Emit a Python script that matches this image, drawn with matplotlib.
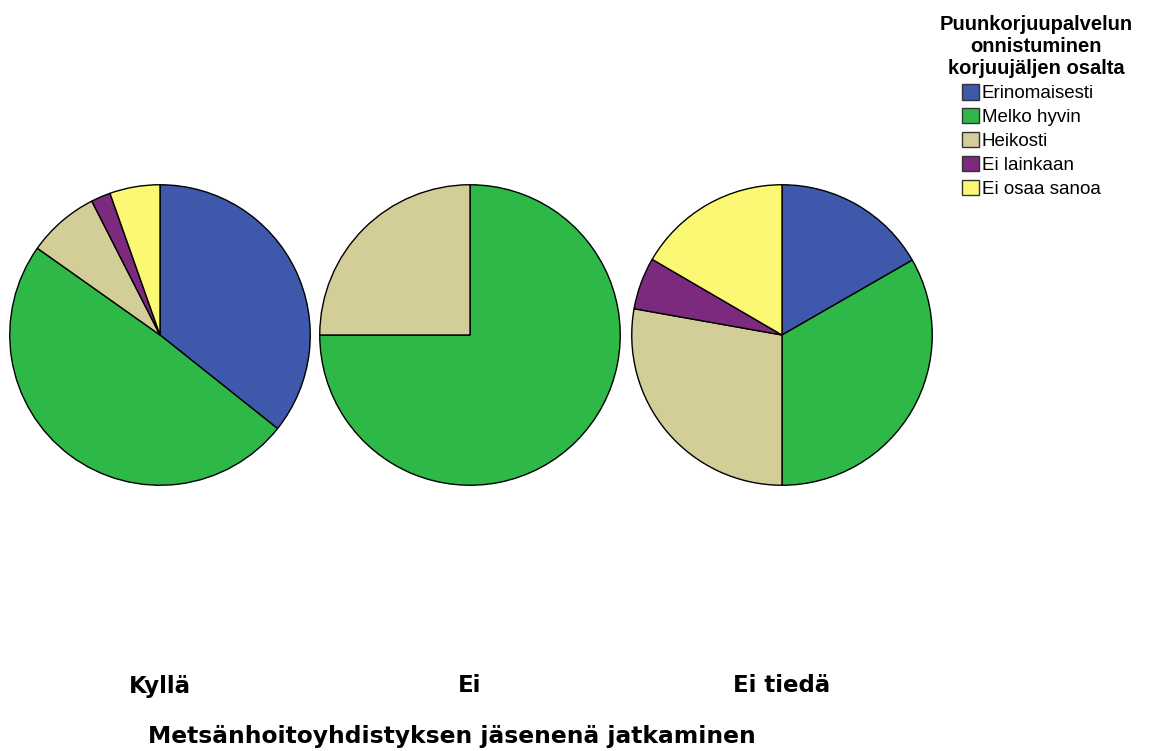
import matplotlib
matplotlib.use("Agg")
import matplotlib.pyplot as plt
from matplotlib.patches import Patch

# Data (shares in percent)
groups = ["Kyllä", "Ei", "Ei tiedä"]
categories = ["Erinomaisesti", "Melko hyvin", "Heikosti", "Ei lainkaan", "Ei osaa sanoa"]
kylla = [35.7, 49.1, 7.7, 2.1, 5.4]
ei = [0, 75.0, 25.0, 0, 0]
ei_tieda = [16.7, 33.3, 27.8, 5.6, 16.6]
colors = ["#3E58AC", "#2EB848", "#D3CE97", "#7B2A7E", "#FBF873"]

W, H = 1150, 751
fig = plt.figure(figsize=(W / 100, H / 100), dpi=100)

# pie centres in pixels (x, y from top), radius ~150 px
centres = [(160, 335), (470, 335), (782, 335)]
R = 151
label_y = 686

for vals, (cx, cy), name in zip([kylla, ei, ei_tieda], centres, groups):
  ax = fig.add_axes([(cx - R) / W, (H - cy - R) / H, 2 * R / W, 2 * R / H])
  v = [x for x in vals if x > 0]
  c = [col for x, col in zip(vals, colors) if x > 0]
  ax.pie(v, colors=c, startangle=90, counterclock=False,
         wedgeprops=dict(edgecolor="black", linewidth=1.0))
  ax.set_xlim(-1.005, 1.005)
  ax.set_ylim(-1.005, 1.005)
  ax.set_aspect("equal")
  ax.axis("off")
  fig.text(cx / W, 1 - label_y / H, name, ha="center", va="center",
           fontsize=16.5, fontweight="bold", family="DejaVu Sans")

fig.text(452 / W, 1 - 737 / H, "Metsänhoitoyhdistyksen jäsenenä jatkaminen",
         ha="center", va="center", fontsize=16.8, fontweight="bold", family="DejaVu Sans")

# Legend
handles = [Patch(facecolor=col, edgecolor="#333333", linewidth=1.0) for col in colors]
leg = fig.legend(handles, categories, loc="upper left",
                 bbox_to_anchor=(962 / W, 1 - 84 / H), frameon=False,
                 prop=dict(family="Liberation Sans", size=13.5),
                 handlelength=0.9, handleheight=0.9, handletextpad=0.15,
                 labelspacing=0.3, borderpad=0, borderaxespad=0)
fig.text(1036 / W, 1 - 46 / H, "Puunkorjuupalvelun\nonnistuminen\nkorjuujäljen osalta",
         ha="center", va="center", fontsize=14.5, fontweight="bold",
         family="Liberation Sans", linespacing=1.2)

fig.savefig("out.png", dpi=100, facecolor="white")
